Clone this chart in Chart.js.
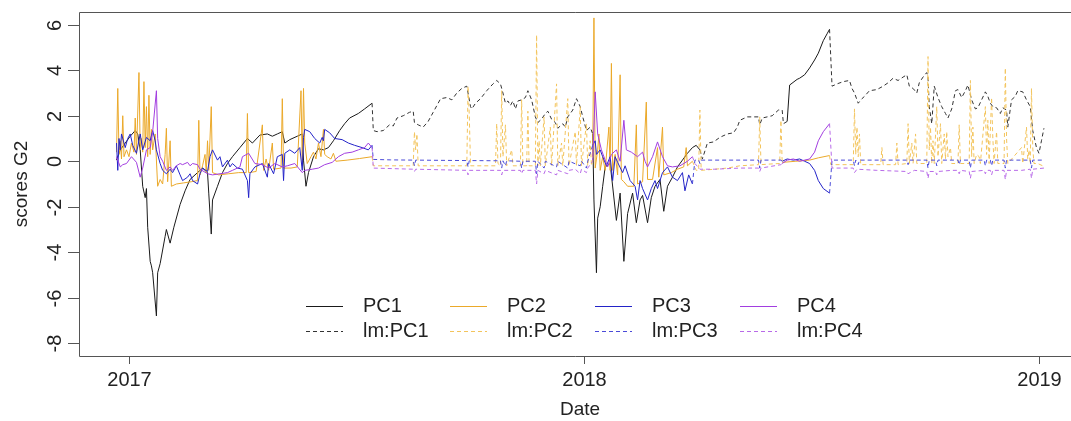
<!DOCTYPE html>
<html>
<head>
<meta charset="utf-8">
<script src="https://cdn.jsdelivr.net/npm/chart.js@4.4.1/dist/chart.umd.min.js"></script>
<style>
  html, body { margin: 0; padding: 0; background: #fff; }
</style>
</head>
<body>
<canvas id="myChart" width="1071" height="421"></canvas>
<script>
// x = days since 2017-01-01, y = score; [day, null] breaks the line
var yTicks = [-8, -6, -4, -2, 0, 2, 4, 6];
var xTickDays = [0, 365, 730];
var xTickLabels = ["2017", "2018", "2019"];
var seriesNames = ["PC1", "PC2", "PC3", "PC4", "lm:PC1", "lm:PC2", "lm:PC3", "lm:PC4"];

var pc1 = [[-10,0.05],[-7,0.5],[-3,0.8],[1,1.1],[5,1.35],[7,1.2],[9,0.5],[11,-1.1],[13,-1.6],[14,-1.2],
  [15,-2.9],[17,-4.4],[18,-4.6],[19,-4.9],[22,-6.8],[23,-4.9],[25,-4.5],[29,-3.3],[30,-3.0],[33,-3.6],
  [36,-2.9],[41,-1.9],[45,-1.3],[49,-0.8],[55,-0.5],[59,-0.3],[63,-0.5],[64,-1.4],[66,-3.2],[67,-1.7],
  [71,-1.1],[75,-0.5],[79,-0.1],[83,0.2],[89,0.6],[95,1.0],[99,0.8],[105,1.15],[111,1.2],[115,1.1],
  [119,1.2],[123,1.3],[125,0.8],[129,0.95],[135,1.1],[139,1.2],[140,0.05],[142,-1.1],[144,-0.5],[148,0.2],
  [152,0.55],[156,0.5],[160,0.6],[164,0.9],[169,1.35],[173,1.65],[177,1.9],[184,2.1],[189,2.3],[195,2.55],
  [280,null],
  [372,1.2],[373,-1.7],[375,-4.9],[376,-2.5],[378,-2.0],[380,-1.1],[382,-0.25],[386,-0.1],[391,-2.6],[394,-1.4],
  [397,-4.4],[400,-2.3],[404,-1.4],[407,-2.7],[410,-1.7],[412,-1.5],[416,-2.7],[419,-1.6],[422,-1.1],[426,-0.8],
  [429,-2.2],[432,-1.1],[436,-0.7],[440,-0.25],[444,0.05],[448,0.35],[452,0.6],[455,0.7],[458,0.5],
  [490,null],
  [528,1.75],[530,3.35],[536,3.6],[538,3.65],[542,3.8],[546,4.1],[550,4.45],[553,4.75],[557,5.3],[560,5.6],[562,5.8]];

var pc2 = [[-10,0.4],[-9,3.2],[-8,0.3],[-7,0.9],[-6,0.1],[-5,2.0],[-4,0.2],[-2,0.5],[0,0.2],[2,0.8],
  [4,0.4],[5,1.9],[6,0.3],[8,3.9],[9,0.5],[10,1.0],[11,0.4],[12,3.5],[13,0.6],[14,2.4],
  [15,0.2],[16,2.9],[17,0.3],[18,1.4],[19,0.5],[21,1.2],[23,-1.1],[25,-0.8],[27,-1.0],[29,0.3],
  [30,1.45],[31,-0.9],[33,0.9],[34,-1.1],[38,-1.0],[44,-0.95],[50,-0.9],[55,-0.85],[56,1.8],[57,-0.6],
  [59,-0.2],[61,0.3],[62,-0.5],[63,0.9],[64,-0.4],[66,2.4],[67,-0.5],[72,-0.6],[80,-0.55],[88,-0.5],
  [94,-0.5],[95,2.1],[96,-0.5],[102,-0.45],[107,1.6],[108,-0.4],[110,0.1],[112,-0.4],[115,0.8],[116,-0.35],
  [122,-0.3],[123,2.75],[124,-0.3],[130,-0.3],[135,-0.25],[138,3.1],[139,-0.2],[140,3.2],[141,0.8],[143,-0.1],
  [146,0.2],[148,0.4],[150,0.1],[152,0.8],[154,0.2],[156,1.4],[157,0.3],[159,0.2],[162,0.1],[164,0.35],
  [166,0.0],[175,0.05],[185,0.12],[195,0.2],
  [280,null],
  [372,0.2],[373,6.3],[374,-0.3],[376,0.5],[377,1.2],[378,-0.4],[380,0.2],[382,-0.4],[385,1.5],[386,-0.4],
  [387,4.3],[388,-0.4],[390,0.3],[392,-0.6],[394,3.8],[395,-0.8],[397,-0.9],[400,-1.1],[405,-1.1],[407,1.6],
  [408,-1.0],[412,-0.9],[415,2.6],[416,-0.8],[420,-0.8],[424,0.6],[425,-0.7],[428,1.5],[429,-0.6],[435,-0.5],
  [440,-0.35],[445,-0.25],[447,0.6],[448,-0.2],[452,0.0],
  [490,null],
  [524,-0.05],[535,0.0],[546,0.05],[553,0.15],[562,0.25]];

var pc3 = [[-10,0.8],[-9,-0.4],[-8,1.0],[-7,0.5],[-6,1.2],[-3,0.6],[-1,1.0],[1,1.2],[3,0.7],[6,0.35],
  [9,1.2],[11,0.5],[14,1.05],[17,0.9],[19,1.35],[21,0.9],[22,0.5],[25,-0.1],[27,-0.4],[30,-0.55],
  [33,-0.35],[35,-0.5],[38,-0.2],[41,-0.6],[43,-0.85],[47,-0.7],[49,-0.55],[51,-0.85],[55,-1.0],[57,-0.55],
  [59,-0.3],[63,-0.45],[65,0.2],[67,0.5],[71,0.05],[73,0.2],[75,-0.25],[79,0.05],[81,-0.25],[83,-0.1],
  [87,-0.3],[91,-0.35],[95,-0.85],[96,-1.6],[97,-0.55],[101,-0.25],[107,-0.1],[111,-0.7],[112,-0.1],[116,-0.55],
  [119,0.2],[123,0.3],[124,-0.85],[125,0.35],[129,0.5],[133,0.35],[137,0.6],[139,-0.4],[140,1.05],[141,1.4],
  [145,1.3],[149,1.0],[153,0.8],[155,1.05],[156,0.9],[157,1.4],[161,1.25],[165,1.0],[171,0.95],[176,0.8],
  [181,0.7],[187,0.6],[192,0.5],[195,0.7],
  [280,null],
  [372,0.7],[374,0.9],[375,0.3],[378,0.5],[380,0.2],[383,-0.2],[386,0.2],[388,-0.85],[390,0.2],[392,-0.05],
  [396,-0.5],[398,-0.2],[402,-0.85],[406,-1.1],[408,-1.7],[410,-0.85],[412,-1.2],[416,-1.7],[419,-1.2],[422,-0.85],
  [424,-1.2],[428,-0.5],[432,-0.25],[436,-0.7],[440,-0.85],[444,-0.5],[446,-1.3],[449,-0.6],[452,-1.0],
  [490,null],
  [524,0.0],[528,0.1],[533,0.05],[538,0.1],[542,0.0],[546,-0.1],[550,-0.4],[553,-0.85],[557,-1.2],[562,-1.4]];

var pc4 = [[-10,0.2],[-7,-0.25],[-5,-0.15],[-2,-0.1],[2,0.2],[6,-0.05],[9,-0.7],[11,-0.3],[14,0.5],[17,0.6],
  [19,1.3],[22,3.1],[23,1.0],[25,0.2],[27,0.0],[30,-0.4],[33,-0.25],[35,-0.4],[38,-0.2],[41,-0.1],
  [43,-0.15],[47,-0.05],[49,-0.2],[51,-0.1],[55,-0.15],[57,-0.35],[63,-0.55],[67,-0.6],[73,-0.55],[79,-0.5],
  [83,-0.4],[89,-0.25],[91,0.2],[96,0.35],[101,-0.1],[107,-0.15],[112,-0.3],[117,-0.1],[123,-0.25],[127,-0.2],
  [133,-0.1],[139,-0.5],[141,-0.4],[147,-0.35],[152,-0.3],[157,-0.15],[163,-0.05],[168,0.2],[173,0.35],[179,0.4],
  [184,0.5],[189,0.6],[192,0.8],[195,0.6],
  [280,null],
  [372,0.0],[374,3.05],[376,1.2],[379,0.5],[382,0.05],[384,-0.25],[387,0.3],[391,0.5],[394,0.0],[397,1.8],
  [399,0.5],[403,0.4],[408,0.2],[412,0.4],[414,0.0],[416,-0.25],[420,0.2],[424,0.85],[428,0.2],[432,-0.2],
  [436,-0.25],[442,-0.2],[448,0.0],[452,0.2],
  [490,null],
  [524,-0.1],[528,0.05],[533,0.1],[538,0.0],[542,0.05],[546,0.1],[550,0.4],[553,0.9],[557,1.3],[562,1.65]];

var lmPc1 = [[195,2.55],[196,1.35],[199,1.3],[204,1.35],[209,1.6],[212,1.55],[215,1.9],[220,2.0],[225,2.15],[228,2.2],[229,1.7],
  [232,1.6],[236,1.5],[240,1.75],[244,2.15],[250,2.75],[255,2.8],[259,2.7],[263,3.0],[267,3.2],[271,3.3],
  [274,2.4],[275,2.3],[278,2.55],[282,2.75],[287,3.1],[292,3.4],[295,3.55],[298,3.4],[300,3.0],[302,2.55],
  [304,2.65],[306,2.45],[308,2.65],[310,2.3],[312,2.65],[315,2.7],[318,2.8],[320,3.1],[323,2.7],[326,1.95],[328,1.7],
  [331,1.85],[334,2.1],[336,2.2],[339,1.85],[342,1.7],[344,1.45],[348,1.65],[350,1.5],[352,1.95],[356,2.25],[359,2.75],
  [362,2.4],[364,1.95],[367,1.35],[370,1.5],[372,1.2],
  [420,null],
  [458,0.5],[460,0.1],[464,0.8],[469,0.85],[474,1.05],[480,1.2],[485,1.25],[488,1.5],[490,1.8],[496,1.95],
  [501,1.95],[505,1.95],[506,1.6],[508,1.9],[512,1.95],[516,2.0],[521,2.25],[524,2.25],[525,1.65],[528,1.75],
  [545,null],
  [562,5.8],[564,3.3],[568,3.4],[573,3.5],[578,3.55],[580,3.2],[582,3.0],[585,2.55],[588,2.75],[590,2.85],
  [594,3.1],[600,3.15],[605,3.3],[609,3.45],[613,3.65],[617,3.55],[621,3.7],[624,3.8],[626,3.3],[629,3.2],
  [632,3.0],[634,3.45],[637,3.7],[640,3.9],[641,3.7],[642,2.4],[644,1.65],[646,3.3],[649,2.8],[652,2.4],
  [655,2.1],[657,1.9],[660,2.3],[663,3.1],[665,3.15],[668,2.8],[671,3.1],[673,3.35],[676,2.7],[679,2.3],
  [681,2.35],[684,2.7],[687,3.05],[689,2.85],[691,2.55],[693,2.4],[696,2.35],[699,2.1],[701,2.35],[704,2.25],
  [705,1.5],[708,2.7],[711,2.85],[713,3.1],[717,3.05],[720,2.7],[723,2.4],[725,1.35],[728,0.6],[730,0.35],
  [732,0.9],[734,1.45]];

var lmPc2 = [[195,0.2],[196,-0.2],[228,-0.2],[229,1.3],[230,0.5],[231,1.2],[232,-0.2],[271,-0.2],[272,3.3],[273,2.0],
  [274,-0.2],[294,-0.2],[295,1.65],[296,-0.1],[298,-0.2],[299,3.1],[300,0.2],[302,1.6],[303,-0.2],[307,0.5],
  [308,-0.2],[314,-0.2],[315,2.7],[316,-0.2],[319,-0.2],[320,2.2],[321,-0.2],[326,-0.2],[327,5.55],[328,-0.2],
  [329,0.9],[330,-0.2],[333,1.95],[334,-0.2],[338,1.5],[339,-0.2],[343,3.4],[344,-0.2],[347,0.8],[348,-0.2],
  [352,2.75],[353,-0.2],[358,1.3],[359,-0.2],[362,2.4],[363,-0.2],[367,1.65],[368,-0.2],[370,0.9],[371,-0.2],
  [372,0.2],
  [420,null],
  [452,0.0],[455,-0.4],[457,-0.4],[458,2.25],[459,-0.4],[470,-0.35],[480,-0.3],[490,-0.2],[505,-0.15],[506,1.95],
  [507,-0.15],[515,-0.12],[522,-0.1],[523,1.8],[524,-0.05],
  [545,null],
  [562,0.25],[563,-0.15],[581,-0.15],[582,2.3],[583,0.3],[584,1.5],[585,0.2],[586,1.2],[587,-0.15],[603,-0.15],
  [604,0.6],[605,-0.15],[615,-0.15],[616,0.8],[617,-0.15],[624,-0.1],[625,1.65],[626,-0.1],[628,0.8],[629,-0.1],
  [631,1.2],[632,-0.1],[640,-0.1],[641,4.6],[642,0.5],[643,1.5],[644,-0.1],[645,0.9],[646,-0.1],[648,2.4],
  [649,0.2],[651,1.65],[652,-0.1],[654,1.2],[655,0.1],[656,1.3],[657,0.2],[659,0.6],[660,-0.1],[665,-0.1],
  [666,1.6],[667,-0.1],[674,-0.1],[675,3.55],[676,0.2],[677,1.5],[678,-0.1],[680,0.3],[682,0.2],[683,-0.1],
  [687,2.4],[688,0.3],[689,1.8],[690,-0.1],[692,2.8],[693,1.0],[694,-0.1],[696,1.3],[697,-0.1],[702,-0.1],
  [703,4.1],[704,1.0],[705,-0.1],[716,0.6],[717,-0.1],[720,1.5],[721,0.1],[722,0.5],[723,-0.1],[724,3.2],
  [725,0.6],[726,-0.1],[729,-0.1],[733,-0.2],[734,-0.2]];

var lmPc3 = [[195,0.7],[196,0.08],[210,0.06],[228,0.05],[229,-0.2],[230,0.05],[271,0.03],[272,-0.25],[273,0.03],[298,0.02],
  [299,-0.3],[300,0.02],[302,-0.2],[303,0.02],[314,0.0],[315,-0.3],[316,0.0],[326,0.0],[327,-0.55],[328,0.0],
  [333,-0.3],[334,0.0],[343,-0.25],[344,0.0],[352,-0.3],[353,0.0],[362,-0.2],[363,0.0],[367,-0.3],[368,0.0],
  [372,0.7],
  [420,null],
  [452,-1.0],[454,0.05],[457,0.05],[458,-0.1],[459,0.05],[480,0.05],[505,0.05],[506,-0.3],[507,0.05],[523,0.05],
  [524,0.0],
  [545,null],
  [562,-1.4],[564,0.05],[581,0.05],[582,-0.2],[583,0.05],[585,-0.15],[586,0.05],[624,0.05],[625,-0.15],[626,0.05],
  [640,0.05],[641,-0.3],[642,0.05],[647,0.05],[648,-0.2],[649,0.05],[665,0.05],[666,-0.15],[667,0.05],[674,0.05],
  [675,-0.3],[676,0.05],[686,0.05],[687,-0.2],[688,0.05],[691,0.05],[692,-0.2],[693,0.05],[702,0.05],[703,-0.3],
  [704,0.05],[723,0.05],[724,-0.3],[725,0.05],[734,0.05]];

var lmPc4 = [[195,0.6],[196,-0.3],[228,-0.35],[229,-0.45],[230,-0.35],[271,-0.4],[272,-0.6],[273,-0.4],[298,-0.4],[299,-0.6],
  [300,-0.4],[314,-0.4],[315,-0.55],[316,-0.4],[326,-0.4],[327,-1.0],[328,-0.4],[333,-0.55],[334,-0.4],[343,-0.6],
  [344,-0.4],[352,-0.55],[353,-0.4],[358,-0.35],[362,-0.55],[363,-0.35],[367,-0.5],[368,-0.3],[372,0.0],
  [420,null],
  [452,0.2],[454,-0.1],[458,-0.35],[470,-0.35],[490,-0.3],[505,-0.3],[506,-0.45],[507,-0.3],[523,-0.15],[524,-0.1],
  [545,null],
  [562,1.65],[564,-0.3],[581,-0.3],[582,-0.5],[584,-0.35],[600,-0.4],[624,-0.45],[625,-0.55],[630,-0.4],[640,-0.45],
  [641,-0.75],[642,-0.45],[647,-0.45],[648,-0.6],[649,-0.45],[660,-0.4],[665,-0.4],[666,-0.55],[667,-0.4],[674,-0.45],
  [675,-0.75],[676,-0.45],[686,-0.4],[687,-0.55],[688,-0.4],[691,-0.4],[692,-0.6],[693,-0.4],[702,-0.4],[703,-0.8],
  [704,-0.4],[716,-0.4],[723,-0.35],[724,-0.75],[725,-0.35],[734,-0.3]];

var seriesData = [pc1, pc2, pc3, pc4, lmPc1, lmPc2, lmPc3, lmPc4];
var seriesColors = ["#1a1a1a", "#eba92a", "#2323c8", "#a23ee0", "#333333", "#f3c45c", "#4a4ad8", "#b86ae8"];

function toPoints(arr) {
  return arr.map(function (p) { return { x: p[0], y: p[1] }; });
}

var datasets = seriesNames.map(function (name, i) {
  return {
    label: name,
    data: toPoints(seriesData[i]),
    borderColor: seriesColors[i],
    borderWidth: 1,
    borderDash: i >= 4 ? [4, 3] : [],
    pointRadius: 0,
    tension: 0,
    spanGaps: false,
    order: 10 - i
  };
});

var FONT = '"Liberation Sans", Arial, sans-serif';

// axes, box, rotated labels and the two-row legend as R draws them
var rAxes = {
  id: 'rAxes',
  afterDraw: function (chart) {
    var ctx = chart.ctx, a = chart.chartArea;
    var xs = chart.scales.x, ys = chart.scales.y;
    ctx.save();
    ctx.strokeStyle = '#555';
    ctx.lineWidth = 1;
    ctx.setLineDash([]);
    ctx.beginPath();
    ctx.moveTo(chart.width, a.top + 0.5);
    ctx.lineTo(a.left + 0.5, a.top + 0.5);
    ctx.lineTo(a.left + 0.5, a.bottom + 0.5);
    ctx.lineTo(chart.width, a.bottom + 0.5);
    ctx.stroke();

    ctx.fillStyle = '#222';
    ctx.font = '20px ' + FONT;
    ctx.textAlign = 'center';
    ctx.textBaseline = 'middle';
    yTicks.forEach(function (v) {
      var py = Math.round(ys.getPixelForValue(v)) + 0.5;
      ctx.beginPath();
      ctx.moveTo(a.left, py);
      ctx.lineTo(a.left - 11, py);
      ctx.stroke();
      ctx.save();
      ctx.translate(55, py);
      ctx.rotate(-Math.PI / 2);
      ctx.fillText(String(v), 0, 0);
      ctx.restore();
    });
    xTickDays.forEach(function (d, i) {
      var px = Math.round(xs.getPixelForValue(d)) + 0.5;
      ctx.beginPath();
      ctx.moveTo(px, a.bottom);
      ctx.lineTo(px, a.bottom + 8);
      ctx.stroke();
      ctx.fillText(xTickLabels[i], px, 380);
    });
    ctx.font = '19px ' + FONT;
    ctx.fillText('Date', 580, 410);
    ctx.save();
    ctx.translate(22, (a.top + a.bottom) / 2);
    ctx.rotate(-Math.PI / 2);
    ctx.fillText('scores G2', 0, 0);
    ctx.restore();

    // legend
    var colX = [306, 450, 595, 740];
    var rowY = [306, 331];
    ctx.font = '20px ' + FONT;
    ctx.textAlign = 'left';
    chart.data.datasets.forEach(function (ds, i) {
      var cx = colX[i % 4], cy = rowY[Math.floor(i / 4)] + 0.5;
      ctx.strokeStyle = ds.borderColor;
      ctx.setLineDash(ds.borderDash);
      ctx.beginPath();
      ctx.moveTo(cx, cy);
      ctx.lineTo(cx + 37, cy);
      ctx.stroke();
      ctx.setLineDash([]);
      ctx.fillStyle = '#222';
      ctx.fillText(ds.label, cx + 57, cy);
    });
    ctx.restore();
  }
};

var ctx = document.getElementById("myChart").getContext('2d');
var myChart = new Chart(ctx, {
  type: 'line',
  data: { datasets: datasets },
  options: {
    responsive: false,
    animation: false,
    devicePixelRatio: 1,
    layout: { padding: { left: 79, top: 12, right: 0, bottom: 65 } },
    plugins: { legend: { display: false }, tooltip: { enabled: false } },
    scales: {
      x: { type: 'linear', display: false, min: -40.1, max: 755.7 },
      y: { type: 'linear', display: false, min: -8.56, max: 6.56 }
    }
  },
  plugins: [rAxes]
});
</script>
</body>
</html>
